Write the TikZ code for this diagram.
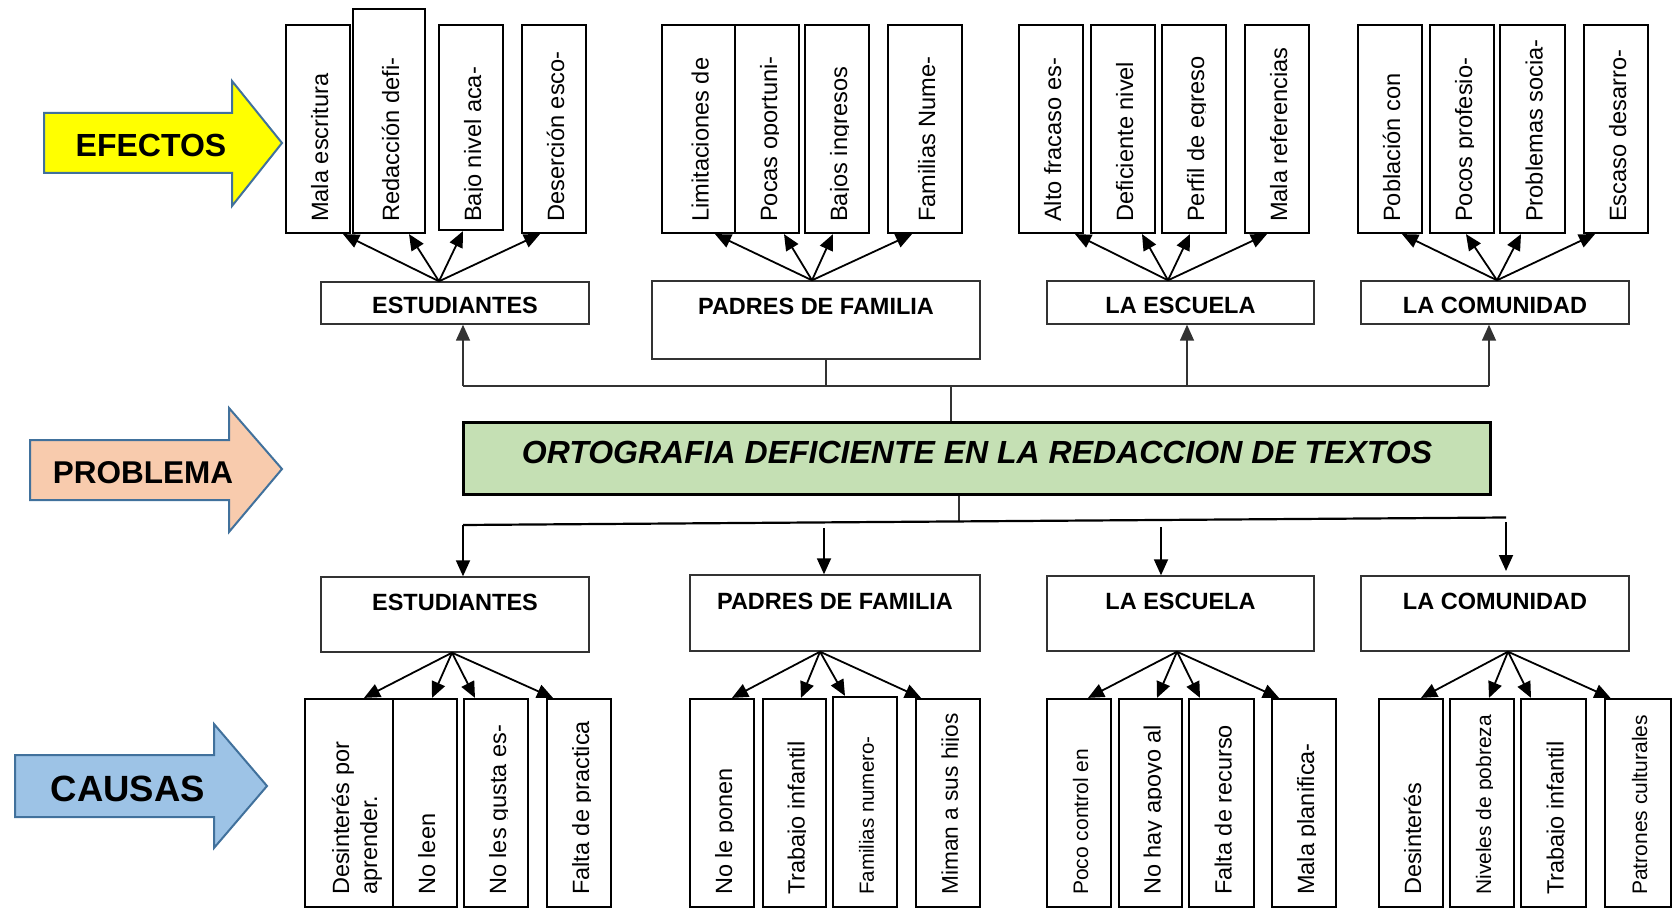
\documentclass[tikz,border=0pt]{standalone}
\usepackage{fontspec}
\setmainfont{Liberation Sans}
\usetikzlibrary{arrows.meta}
\definecolor{arrowline}{HTML}{41719C}
\definecolor{efyellow}{HTML}{FFFF00}
\definecolor{prpeach}{HTML}{F8CBAD}
\definecolor{cablue}{HTML}{9DC3E6}
\definecolor{pbgreen}{HTML}{C5E0B4}
% box node: name, x1, x2, ytop, ybot
\newcommand\leafbox[5]{\node[leaf, minimum width={#3-#2}, minimum height={#5-#4}] (#1) at ({(#2+#3)/2},{(#4+#5)/2}) {};}
\newcommand\grpbox[5]{\node[grp, minimum width={#3-#2}, minimum height={#5-#4}] (#1) at ({(#2+#3)/2},{(#4+#5)/2}) {};}
% rotated text clipped just below its baseline: name, x1, x2, ystart, size, text
\newcommand\leaftext[6]{%
  \begin{scope}
    \clip (#2,0) rectangle ({(#2+#3)/2+0.43*#5+1},909);
    \node[lt, font=\fontsize{#5}{#5}\selectfont] (#1) at ({(#2+#3)/2+0.43*#5},#4) {#6};
  \end{scope}}
\begin{document}
\begin{tikzpicture}[x=1pt,y=-1pt,
  leaf/.style={draw=black, line width=2.2pt, inner sep=0pt},
  grp/.style={draw=black!80, line width=1.4pt, inner sep=0pt},
  gt/.style={anchor=base, inner sep=0pt, font=\bfseries\fontsize{23.5}{24}\selectfont},
  lt/.style={rotate=90, anchor=base west, inner sep=0pt},
  conn/.style={draw=black, line width=1.8pt, -{Triangle[length=16pt,width=14pt]}},
  tree/.style={draw=black!80, line width=1.5pt},
  sidearrow/.style={draw=arrowline, line width=2pt, line join=miter},
  sidetext/.style={anchor=base, inner sep=0pt},
]
\useasboundingbox (0,0) rectangle (1674,909);

% ---------- side arrows ----------
\draw[sidearrow, fill=efyellow] (44,113) -- (232,113) -- (232,81) -- (282,143) -- (232,206) -- (232,173) -- (44,173) -- cycle;
\node[sidetext, font=\bfseries\fontsize{32}{32}\selectfont] (tEf) at (151,156.5) {EFECTOS};
\draw[sidearrow, fill=prpeach] (30,440) -- (229,440) -- (229,408) -- (282,469) -- (229,532) -- (229,500) -- (30,500) -- cycle;
\node[sidetext, font=\bfseries\fontsize{31.5}{32}\selectfont] (tPr) at (143,483) {PROBLEMA};
\draw[sidearrow, fill=cablue] (15,755) -- (214,755) -- (214,724) -- (267,786) -- (214,848) -- (214,817) -- (15,817) -- cycle;
\node[sidetext, font=\bfseries\fontsize{36.5}{37}\selectfont] (tCa) at (128,801) {CAUSAS};

% ---------- problem ----------
\node[draw=black, line width=3pt, fill=pbgreen, minimum width=1027, minimum height=72, inner sep=0pt] (prob) at (976.5,458) {};
\node[sidetext, font=\bfseries\itshape\fontsize{32}{32}\selectfont] (probt) at (977,463) {ORTOGRAFIA DEFICIENTE EN LA REDACCION DE TEXTOS};

% ---------- top group boxes ----------
\grpbox{gE1}{321}{589}{282}{324}
\grpbox{gP1}{652}{980}{281}{359}
\grpbox{gS1}{1047}{1314}{281}{324}
\grpbox{gC1}{1361}{1629}{281}{324}
\node[gt] (gE1t) at (455,313.5) {ESTUDIANTES};
\node[gt] (gP1t) at (816,315) {PADRES DE FAMILIA};
\node[gt] (gS1t) at (1180.5,313.5) {LA ESCUELA};
\node[gt] (gC1t) at (1495,313.5) {LA COMUNIDAD};

% ---------- bottom group boxes ----------
\grpbox{gE2}{321}{589}{577}{652}
\grpbox{gP2}{690}{980}{575}{651}
\grpbox{gS2}{1047}{1314}{576}{651}
\grpbox{gC2}{1361}{1629}{576}{651}
\node[gt] (gE2t) at (455,610.5) {ESTUDIANTES};
\node[gt] (gP2t) at (835,609.5) {PADRES DE FAMILIA};
\node[gt] (gS2t) at (1180.5,609.5) {LA ESCUELA};
\node[gt] (gC2t) at (1495,609.5) {LA COMUNIDAD};

% ---------- top leaves (effects) ----------
\leafbox{l1}{286}{350}{25}{233}   \leaftext{l1t}{286}{350}{222}{23.6}{Mala escritura}
\leafbox{l2}{353}{425}{9}{233}    \leaftext{l2t}{353}{425}{222}{23.6}{Redacción defi-}
\leafbox{l3}{439}{503}{25}{230}   \leaftext{l3t}{439}{503}{222}{23.6}{Bajo nivel aca-}
\leafbox{l4}{522}{586}{25}{233}   \leaftext{l4t}{522}{586}{222}{23.6}{Deserción esco-}
\leafbox{l5}{662}{735}{25}{233}   \leaftext{l5t}{662}{735}{222}{23.6}{Limitaciones de}
\leafbox{l6}{735}{799}{25}{233}   \leaftext{l6t}{735}{799}{222}{23.6}{Pocas oportuni-}
\leafbox{l7}{805}{869}{25}{233}   \leaftext{l7t}{805}{869}{222}{23.6}{Bajos ingresos}
\leafbox{l8}{888}{962}{25}{233}   \leaftext{l8t}{888}{962}{222}{23.6}{Familias Nume-}
\leafbox{l9}{1019}{1083}{25}{233} \leaftext{l9t}{1019}{1083}{222}{23.6}{Alto fracaso es-}
\leafbox{l10}{1091}{1155}{25}{233} \leaftext{l10t}{1091}{1155}{222}{23.6}{Deficiente nivel}
\leafbox{l11}{1162}{1226}{25}{233} \leaftext{l11t}{1162}{1226}{222}{23.6}{Perfil de egreso}
\leafbox{l12}{1245}{1309}{25}{233} \leaftext{l12t}{1245}{1309}{222}{23.6}{Mala referencias}
\leafbox{l13}{1358}{1422}{25}{233} \leaftext{l13t}{1358}{1422}{222}{23.6}{Población con}
\leafbox{l14}{1430}{1494}{25}{233} \leaftext{l14t}{1430}{1494}{222}{23.6}{Pocos profesio-}
\leafbox{l15}{1500}{1565}{25}{233} \leaftext{l15t}{1500}{1565}{222}{23.6}{Problemas socia-}
\leafbox{l16}{1584}{1648}{25}{233} \leaftext{l16t}{1584}{1648}{222}{23.6}{Escaso desarro-}

% ---------- bottom leaves (causes) ----------
\leafbox{b1}{305}{393}{699}{907}
\node[lt, font=\fontsize{23.5}{24}\selectfont] (b1ta) at (349,895) {Desinterés por};
\node[lt, font=\fontsize{23.5}{24}\selectfont] (b1tb) at (377,895) {aprender.};
\leafbox{b2}{393}{457}{699}{907}   \leaftext{b2t}{393}{457}{895}{23.5}{No leen}
\leafbox{b3}{464}{528}{699}{907}   \leaftext{b3t}{464}{528}{895}{23.5}{No les gusta es-}
\leafbox{b4}{547}{611}{699}{907}   \leaftext{b4t}{547}{611}{895}{23.5}{Falta de practica}
\leafbox{b5}{690}{754}{699}{907}   \leaftext{b5t}{690}{754}{895}{23.5}{No le ponen}
\leafbox{b6}{763}{826}{699}{907}   \leaftext{b6t}{763}{826}{895}{23.5}{Trabajo infantil}
\leafbox{b7}{833}{897}{697}{907}   \leaftext{b7t}{833}{897}{895}{20.5}{Familias numero-}
\leafbox{b8}{916}{980}{699}{907}   \leaftext{b8t}{916}{980}{895}{22.7}{Miman a sus hijos}
\leafbox{b9}{1047}{1111}{699}{907} \leaftext{b9t}{1047}{1111}{895}{21}{Poco control en}
\leafbox{b10}{1119}{1182}{699}{907} \leaftext{b10t}{1119}{1182}{895}{23.5}{No hay apoyo al}
\leafbox{b11}{1189}{1254}{699}{907} \leaftext{b11t}{1189}{1254}{895}{23.5}{Falta de recurso}
\leafbox{b12}{1272}{1336}{699}{907} \leaftext{b12t}{1272}{1336}{895}{23.5}{Mala planifica-}
\leafbox{b13}{1379}{1443}{699}{907} \leaftext{b13t}{1379}{1443}{895}{23.5}{Desinterés}
\leafbox{b14}{1450}{1514}{699}{907} \leaftext{b14t}{1450}{1514}{895}{21}{Niveles de pobreza}
\leafbox{b15}{1521}{1586}{699}{907} \leaftext{b15t}{1521}{1586}{895}{23.5}{Trabajo infantil}
\leafbox{b16}{1605}{1671}{699}{907} \leaftext{b16t}{1605}{1671}{895}{21}{Patrones culturales}

% ---------- top fans ----------
\draw[conn] ([xshift=-16pt]gE1.north) -- ([xshift=25pt]l1.south);
\draw[conn] ([xshift=-16pt]gE1.north) -- ([xshift=20pt]l2.south);
\draw[conn] ([xshift=-16pt]gE1.north) -- ([xshift=-8pt]l3.south);
\draw[conn] ([xshift=-16pt]gE1.north) -- ([xshift=-14pt]l4.south);
\draw[conn] ([xshift=-4pt]gP1.north) -- ([xshift=16.5pt]l5.south);
\draw[conn] ([xshift=-4pt]gP1.north) -- ([xshift=17pt]l6.south);
\draw[conn] ([xshift=-4pt]gP1.north) -- ([xshift=-4pt]l7.south);
\draw[conn] ([xshift=-4pt]gP1.north) -- ([xshift=-13pt]l8.south);
\draw[conn] ([xshift=-12.5pt]gS1.north) -- ([xshift=24pt]l9.south);
\draw[conn] ([xshift=-12.5pt]gS1.north) -- ([xshift=19pt]l10.south);
\draw[conn] ([xshift=-12.5pt]gS1.north) -- ([xshift=-4pt]l11.south);
\draw[conn] ([xshift=-12.5pt]gS1.north) -- ([xshift=-10pt]l12.south);
\draw[conn] ([xshift=2pt]gC1.north) -- ([xshift=12pt]l13.south);
\draw[conn] ([xshift=2pt]gC1.north) -- ([xshift=4pt]l14.south);
\draw[conn] ([xshift=2pt]gC1.north) -- ([xshift=-11.5pt]l15.south);
\draw[conn] ([xshift=2pt]gC1.north) -- ([xshift=-21pt]l16.south);

% ---------- bottom fans ----------
\draw[conn] ([xshift=-3pt]gE2.south) -- ([xshift=15pt]b1.north);
\draw[conn] ([xshift=-3pt]gE2.south) -- ([xshift=7pt]b2.north);
\draw[conn] ([xshift=-3pt]gE2.south) -- ([xshift=-21pt]b3.north);
\draw[conn] ([xshift=-3pt]gE2.south) -- ([xshift=-26pt]b4.north);
\draw[conn] ([xshift=-15pt]gP2.south) -- ([xshift=10pt]b5.north);
\draw[conn] ([xshift=-15pt]gP2.south) -- ([xshift=6.5pt]b6.north);
\draw[conn] ([xshift=-15pt]gP2.south) -- ([xshift=-20pt]b7.north);
\draw[conn] ([xshift=-15pt]gP2.south) -- ([xshift=-27pt]b8.north);
\draw[conn] ([xshift=-3.5pt]gS2.south) -- ([xshift=9pt]b9.north);
\draw[conn] ([xshift=-3.5pt]gS2.south) -- ([xshift=6.5pt]b10.north);
\draw[conn] ([xshift=-3.5pt]gS2.south) -- ([xshift=-21.5pt]b11.north);
\draw[conn] ([xshift=-3.5pt]gS2.south) -- ([xshift=-25pt]b12.north);
\draw[conn] ([xshift=13pt]gC2.south) -- ([xshift=10pt]b13.north);
\draw[conn] ([xshift=13pt]gC2.south) -- ([xshift=7pt]b14.north);
\draw[conn] ([xshift=13pt]gC2.south) -- ([xshift=-22.5pt]b15.north);
\draw[conn] ([xshift=13pt]gC2.south) -- ([xshift=-27.5pt]b16.north);

% ---------- tree above problem ----------
\coordinate (hL) at (463,386);
\coordinate (hP) at (826,386);
\coordinate (hM) at (951,386);
\coordinate (hS) at (1187,386);
\coordinate (hR) at (1489,386);
\draw[tree] (hL) -- (hR);
\draw[tree, -{Triangle[length=16pt,width=14pt]}] (hL) -- (hL |- gE1.south);
\draw[tree, -{Triangle[length=16pt,width=14pt]}] (hS) -- (hS |- gS1.south);
\draw[tree, -{Triangle[length=16pt,width=14pt]}] (hR) -- (hR |- gC1.south);
\draw[tree] (hP |- gP1.south) -- (hP);
\draw[tree] (hM) -- (hM |- prob.north);

% ---------- tree below problem ----------
\coordinate (bL) at (463,525);
\coordinate (bR) at (1506,517.5);
\coordinate (bM) at (959,521.4);
\coordinate (bP) at (824,528);
\coordinate (bS) at (1161,527);
\coordinate (bC) at (1506,522);
\coordinate (bCe) at (1506,571);
\draw[tree] (bM |- prob.south) -- (bM);
\draw[draw=black, line width=2.2pt] (bL) -- (bR);
\draw[conn] (bL) -- (bL |- gE2.north);
\draw[conn] (bP) -- (bP |- gP2.north);
\draw[conn] (bS) -- (bS |- gS2.north);
\draw[conn] (bC) -- (bCe);
\end{tikzpicture}
\end{document}
